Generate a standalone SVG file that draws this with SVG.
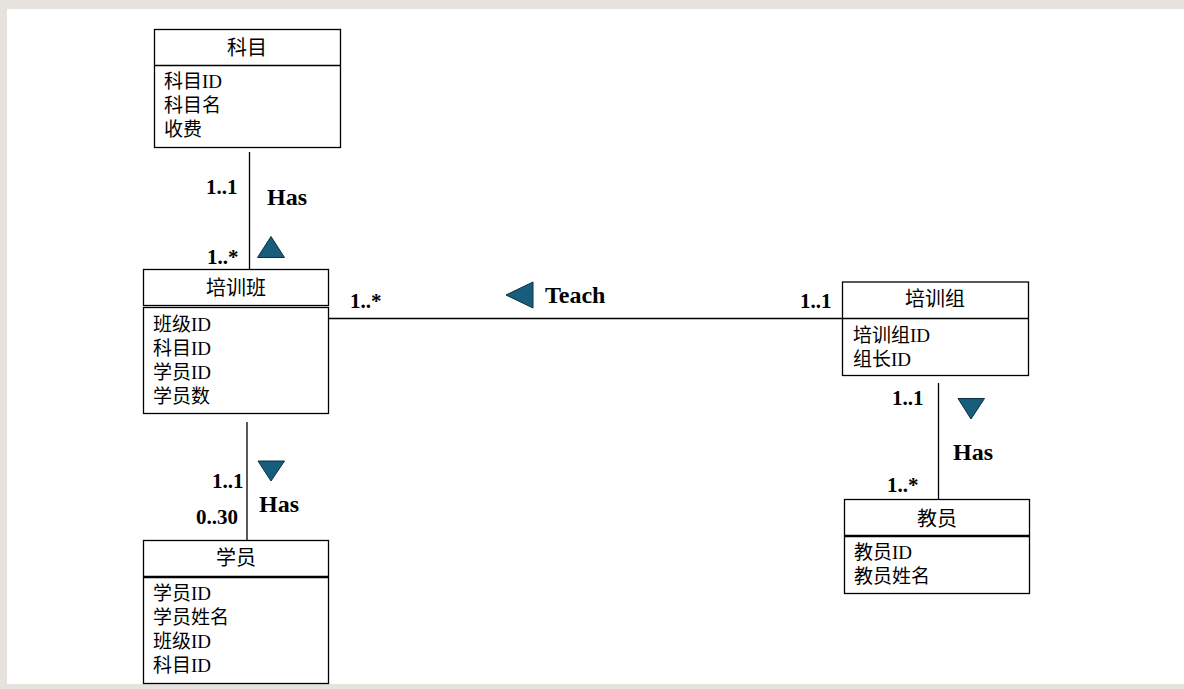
<svg xmlns="http://www.w3.org/2000/svg" width="1184" height="689" viewBox="0 0 1184 689">
<style>
.box{fill:#fff;stroke:#000;stroke-width:1.3}
.div{stroke:#000;stroke-width:1.3}
.thick{stroke:#000;stroke-width:2.5}
.title{font-family:"Liberation Serif","Noto Sans CJK SC",serif;font-size:20px;text-anchor:middle;fill:#000}
.attr{font-family:"Liberation Serif","Noto Sans CJK SC",serif;font-size:19px;fill:#000}
.lbl{font-family:"Liberation Serif","Noto Sans CJK SC",serif;font-size:21px;font-weight:bold;fill:#000}
.name{font-family:"Liberation Serif","Noto Sans CJK SC",serif;font-size:24px;font-weight:bold;fill:#000}
.conn{stroke:#000;stroke-width:1.3;fill:none}
.tri{fill:#175e7d;stroke:#0b2f40;stroke-width:1}
</style>
<rect x="0" y="0" width="1184" height="689" fill="#e6e3de"/>
<rect x="7" y="9" width="1177" height="675" fill="#fff"/>

<g id="connectors">
  <line class="conn" x1="249.5" y1="152" x2="249.5" y2="269"/>
  <line class="conn" x1="329" y1="318.5" x2="843" y2="318.5"/>
  <line class="conn" x1="938.5" y1="383" x2="938.5" y2="499"/>
  <line class="conn" x1="247" y1="422" x2="247" y2="540"/>
  <polygon class="tri" points="257.5,257.5 284.5,257.5 271,236.5"/>
  <polygon class="tri" points="506,295 533,282 533,308"/>
  <polygon class="tri" points="958,398.5 984.5,398.5 971,419"/>
  <polygon class="tri" points="258,461 284.5,461 271,481"/>
  <text class="lbl" x="206" y="194">1..1</text>
  <text class="name" x="267" y="205">Has</text>
  <text class="lbl" x="207" y="264">1..*</text>
  <text class="lbl" x="350" y="308">1..*</text>
  <text class="name" x="545" y="303">Teach</text>
  <text class="lbl" x="800" y="308">1..1</text>
  <text class="lbl" x="892" y="405">1..1</text>
  <text class="name" x="953" y="460">Has</text>
  <text class="lbl" x="887" y="492">1..*</text>
  <text class="lbl" x="212" y="488">1..1</text>
  <text class="name" x="259" y="512">Has</text>
  <text class="lbl" x="196" y="524">0..30</text>
</g>

<g id="kemu">
  <rect class="box" x="154.5" y="29.5" width="186" height="118"/>
  <line class="div" x1="154.5" y1="65.5" x2="340.5" y2="65.5"/>
  <text class="title" x="247" y="55">科目</text>
  <text class="attr" x="164" y="88">科目ID</text>
  <text class="attr" x="164" y="112">科目名</text>
  <text class="attr" x="164" y="136">收费</text>
</g>

<g id="peixunban">
  <rect class="box" x="143.5" y="269.5" width="185" height="36"/>
  <rect class="box" x="143.5" y="307.5" width="185" height="106"/>
  <text class="title" x="236" y="295">培训班</text>
  <text class="attr" x="153" y="331">班级ID</text>
  <text class="attr" x="153" y="355">科目ID</text>
  <text class="attr" x="153" y="379">学员ID</text>
  <text class="attr" x="153" y="403">学员数</text>
</g>

<g id="peixunzu">
  <rect class="box" x="842.5" y="282" width="186" height="93.5"/>
  <line class="div" x1="842.5" y1="318.5" x2="1028.5" y2="318.5"/>
  <text class="title" x="935" y="306">培训组</text>
  <text class="attr" x="853" y="342">培训组ID</text>
  <text class="attr" x="853" y="366">组长ID</text>
</g>

<g id="jiaoyuan">
  <rect class="box" x="844.5" y="499.5" width="185" height="94"/>
  <line class="thick" x1="844.5" y1="536" x2="1029.5" y2="536"/>
  <text class="title" x="937" y="526">教员</text>
  <text class="attr" x="854" y="559">教员ID</text>
  <text class="attr" x="854" y="583">教员姓名</text>
</g>

<g id="xueyuan">
  <rect class="box" x="143.5" y="540.5" width="185" height="143"/>
  <line class="thick" x1="143.5" y1="577" x2="328.5" y2="577"/>
  <text class="title" x="236" y="565">学员</text>
  <text class="attr" x="153" y="600">学员ID</text>
  <text class="attr" x="153" y="624">学员姓名</text>
  <text class="attr" x="153" y="648">班级ID</text>
  <text class="attr" x="153" y="672">科目ID</text>
</g>
</svg>
